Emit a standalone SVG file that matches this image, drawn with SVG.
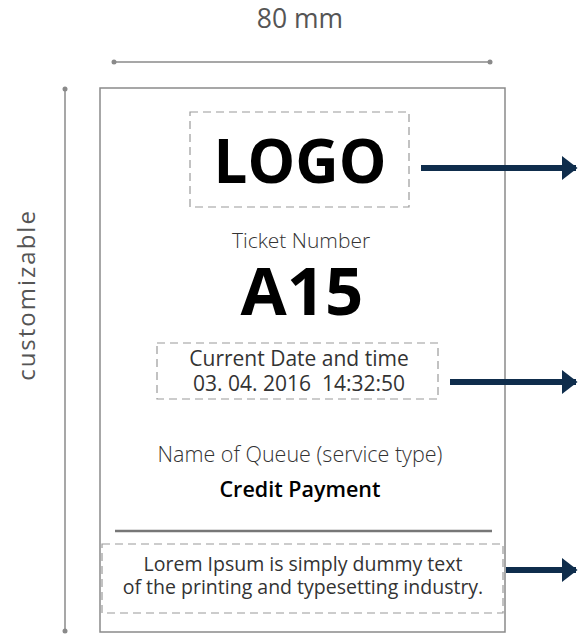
<svg xmlns="http://www.w3.org/2000/svg" width="578" height="634" viewBox="0 0 578 634">
<style>
.dim{stroke:#8a8a8a;stroke-width:1.5;fill:none}
.dash{stroke:#9a9a9a;stroke-width:1.2;fill:none;stroke-dasharray:8 5}
.conn{stroke:#0f2d4c;stroke-width:6;fill:none}
.t{font-family:"Open Sans","Liberation Sans",sans-serif;text-anchor:middle}
.g{fill:#555}
.d{fill:#333}
.k{fill:#000}
</style>
<defs>
<marker id="dot" viewBox="0 0 6 6" refX="3" refY="3" markerWidth="4" markerHeight="4"><circle cx="3" cy="3" r="2.5" fill="#8a8a8a"/></marker>
<marker id="ah" viewBox="0 0 10 10" refX="9" refY="5" markerWidth="2.6" markerHeight="4" markerUnits="strokeWidth" orient="auto" preserveAspectRatio="none"><path d="M0,0 L10,5 L0,10 Z" fill="#0f2d4c"/></marker>
</defs>
<g id="dimensions">
<text class="t g" x="300" y="28" font-size="26.5">80 mm</text>
<line class="dim" x1="114" y1="62" x2="490" y2="62" marker-start="url(#dot)" marker-end="url(#dot)"/>
<line class="dim" x1="65" y1="89" x2="65" y2="631" marker-start="url(#dot)" marker-end="url(#dot)"/>
<text class="t g" font-size="24" letter-spacing="2" transform="translate(35,295) rotate(-90)">customizable</text>
</g>
<g id="ticket">
<rect x="100" y="88" width="405" height="544" fill="none" stroke="#8a8a8a" stroke-width="1.5"/>
</g>
<g id="logo">
<rect class="dash" x="190" y="112" width="219" height="95"/>
<text class="t k" x="300" y="183" font-size="60" font-weight="bold">LOGO</text>
</g>
<g id="ticket-number">
<text class="t d" x="301" y="248" font-size="21" font-weight="300">Ticket Number</text>
<text class="t k" x="302" y="315" font-size="67" font-weight="bold">A15</text>
</g>
<g id="date-time">
<rect class="dash" x="157" y="343" width="281" height="56"/>
<text class="t d" x="299" y="366" font-size="21">Current Date and time</text>
<text class="t d" x="299" y="391" font-size="21" xml:space="preserve">03. 04. 2016  14:32:50</text>
</g>
<g id="queue">
<text class="t d" x="300" y="462" font-size="21.5" font-weight="300">Name of Queue (service type)</text>
<text class="t k" x="300" y="497" font-size="21.5" font-weight="600">Credit Payment</text>
</g>
<g id="separator">
<line x1="115" y1="531" x2="492" y2="531" stroke="#777" stroke-width="2.5"/>
</g>
<g id="footer">
<rect class="dash" x="102" y="544" width="401" height="69"/>
<text class="t d" x="303" y="571" font-size="19.5">Lorem Ipsum is simply dummy text</text>
<text class="t d" x="303" y="594" font-size="19.5">of the printing and typesetting industry.</text>
</g>
<g id="connectors">
<line class="conn" x1="421" y1="168" x2="576" y2="168" marker-end="url(#ah)"/>
<line class="conn" x1="450" y1="382" x2="576" y2="382" marker-end="url(#ah)"/>
<line class="conn" x1="506" y1="570" x2="576" y2="570" marker-end="url(#ah)"/>
</g>
</svg>
